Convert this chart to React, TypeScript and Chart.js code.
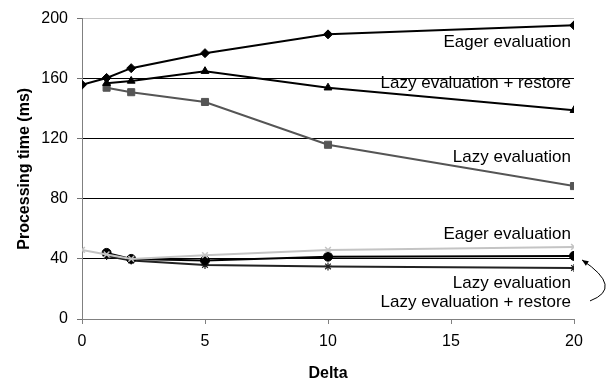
import React, { useEffect, useRef } from "react";
import { Chart, registerables } from "chart.js";

Chart.register(...registerables);

const FONT = "'Liberation Sans', Arial, Helvetica, sans-serif";

// Delta values (x)
const deltaFull = [0, 1, 2, 5, 10, 20];
const deltaLazy = [1, 2, 5, 10, 20];

// Upper group (ms)
const eagerTop = [156, 160.5, 167, 177, 189.5, 195.5];
const lazyRestoreTop = [157, 158.5, 165, 154, 139];
const lazyTop = [154, 151, 144.5, 116, 88.5];

// Lower group (ms)
const eagerBottom = [46, 43, 40, 42.5, 46, 48];
const lazyBottom = [44, 40, 39, 41.5, 42];
const lazyRestoreBottom = [42, 39, 36, 35, 34];

const yTicks = [0, 40, 80, 120, 160, 200];
const xTicks = [0, 5, 10, 15, 20];

// Annotation texts with the y value they sit at
const labelTexts = [
  "Eager evaluation",
  "Lazy evaluation + restore",
  "Lazy evaluation",
  "Eager evaluation",
  "Lazy evaluation",
  "Lazy evaluation + restore",
];
const labelValues = [184.3, 156.7, 107.5, 56.4, 23.6, 11.1];

const pts = (xs: number[], ys: number[]) => xs.map((x, i) => ({ x, y: ys[i] }));

const annotationPlugin = {
  id: "annotations",
  afterDatasetsDraw(chart: any) {
    const { ctx, scales } = chart;
    const xs = scales.x;
    const ys = scales.y;
    ctx.save();
    ctx.font = `17px ${FONT}`;
    ctx.fillStyle = "#000";
    ctx.textAlign = "right";
    ctx.textBaseline = "middle";
    const xr = xs.getPixelForValue(20) - 3;
    labelTexts.forEach((t, i) => {
      ctx.fillText(t, xr, ys.getPixelForValue(labelValues[i]));
    });
    // curved arrow pointing to last "Lazy evaluation" point
    const px = xs.getPixelForValue(20);
    const py = ys.getPixelForValue(lazyBottom[lazyBottom.length - 1]);
    const sx = px + 16, sy = py + 45;
    const cx = px + 50, cy = py + 32;
    const ex = px + 8, ey = py + 4;
    ctx.strokeStyle = "#000";
    ctx.lineWidth = 1;
    ctx.beginPath();
    ctx.moveTo(sx, sy);
    ctx.quadraticCurveTo(cx, cy, ex, ey);
    ctx.stroke();
    const ang = Math.atan2(ey - cy, ex - cx);
    const hl = 7;
    ctx.beginPath();
    ctx.moveTo(ex, ey);
    ctx.lineTo(ex - hl * Math.cos(ang - 0.4), ey - hl * Math.sin(ang - 0.4));
    ctx.lineTo(ex - hl * Math.cos(ang + 0.4), ey - hl * Math.sin(ang + 0.4));
    ctx.closePath();
    ctx.fillStyle = "#000";
    ctx.fill();
    ctx.restore();
  },
};

export default function App() {
  const ref = useRef<HTMLCanvasElement | null>(null);

  useEffect(() => {
    document.body.style.margin = "0";
    const canvas = ref.current;
    if (!canvas) return;
    const chart = new Chart(canvas, {
      type: "line",
      data: {
        datasets: [
          {
            label: "Eager evaluation",
            data: pts(deltaFull, eagerTop),
            borderColor: "#000",
            backgroundColor: "#000",
            borderWidth: 2,
            pointStyle: "rectRot",
            pointRadius: 4.5,
            pointBorderWidth: 1,
          },
          {
            label: "Lazy evaluation + restore",
            data: pts(deltaLazy, lazyRestoreTop),
            borderColor: "#000",
            backgroundColor: "#000",
            borderWidth: 2,
            pointStyle: "triangle",
            pointRadius: 4.5,
            pointBorderWidth: 1,
          },
          {
            label: "Lazy evaluation",
            data: pts(deltaLazy, lazyTop),
            borderColor: "#555",
            backgroundColor: "#555",
            borderWidth: 2,
            pointStyle: "rect",
            pointRadius: 5,
            pointBorderWidth: 1,
          },
          {
            label: "Eager evaluation (low)",
            data: pts(deltaFull, eagerBottom),
            borderColor: "#c4c4c4",
            backgroundColor: "#c4c4c4",
            borderWidth: 2,
            pointStyle: "crossRot",
            pointRadius: 4,
            pointBorderWidth: 1.5,
          },
          {
            label: "Lazy evaluation (low)",
            data: pts(deltaLazy, lazyBottom),
            borderColor: "#000",
            backgroundColor: "#000",
            borderWidth: 2,
            pointStyle: "circle",
            pointRadius: 4.5,
            pointBorderWidth: 1,
          },
          {
            label: "Lazy evaluation + restore (low)",
            data: pts(deltaLazy, lazyRestoreBottom),
            borderColor: "#222",
            backgroundColor: "#222",
            borderWidth: 2,
            pointStyle: "star",
            pointRadius: 4,
            pointBorderWidth: 1.2,
          },
        ],
      },
      options: {
        responsive: false,
        animation: false,
        layout: { padding: { left: 0, right: 36, top: 14, bottom: 0 } },
        plugins: {
          legend: { display: false },
          tooltip: { enabled: false },
        },
        elements: { line: { tension: 0 } },
        scales: {
          x: {
            type: "linear",
            min: 0,
            max: 20,
            afterBuildTicks: (s: any) => {
              s.ticks = xTicks.map((v) => ({ value: v }));
            },
            afterFit: (s: any) => {
              s.height = 66;
            },
            ticks: {
              color: "#000",
              font: { family: FONT, size: 16 },
              padding: 8,
            },
            grid: {
              drawOnChartArea: false,
              drawTicks: true,
              tickLength: 5,
              tickColor: "#808080",
            },
            border: { color: "#808080", width: 1 },
            title: {
              display: true,
              text: "Delta",
              color: "#000",
              font: { family: FONT, size: 16, weight: "bold" },
              padding: { top: 0, bottom: 2 },
            },
          },
          y: {
            type: "linear",
            min: 0,
            max: 200,
            afterBuildTicks: (s: any) => {
              s.ticks = yTicks.map((v) => ({ value: v }));
            },
            afterFit: (s: any) => {
              s.width = 82;
            },
            ticks: {
              color: "#000",
              font: { family: FONT, size: 16 },
              padding: 9,
            },
            grid: {
              color: (c: any) =>
                c.tick && c.tick.value === 200
                  ? "#c4c4c4"
                  : c.tick && c.tick.value === 0
                  ? "rgba(0,0,0,0)"
                  : "#000",
              lineWidth: 1,
              drawTicks: true,
              tickLength: 5,
              tickColor: "#707070",
            },
            border: { color: "#808080", width: 1 },
            title: {
              display: true,
              text: "Processing time (ms)",
              color: "#000",
              font: { family: FONT, size: 16, weight: "bold" },
              padding: { top: 15, bottom: 0 },
            },
          },
        },
      },
      plugins: [annotationPlugin],
    });
    return () => chart.destroy();
  }, []);

  return (
    <div style={{ width: 610, height: 385 }}>
      <canvas ref={ref} width={610} height={385} />
    </div>
  );
}
